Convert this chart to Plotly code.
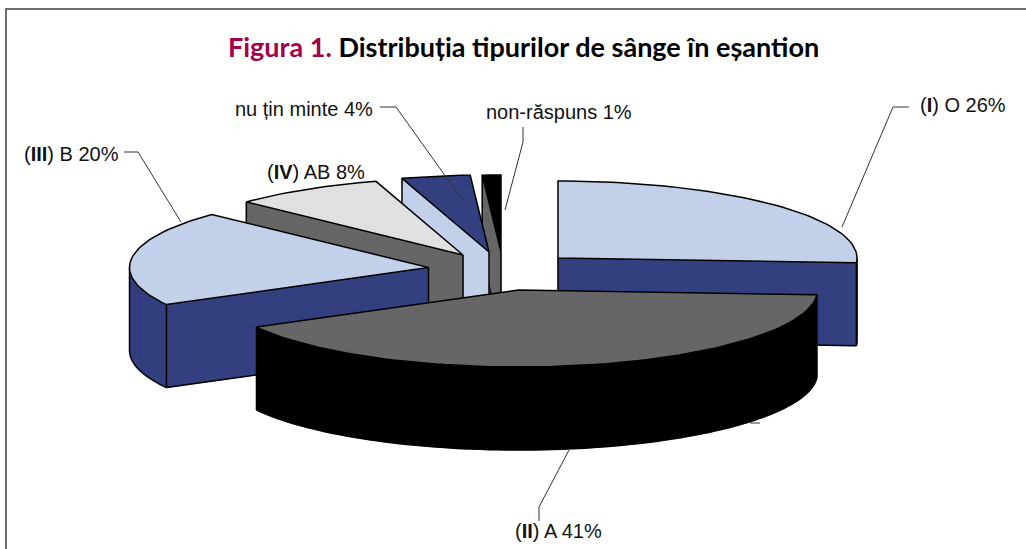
import math
import plotly.graph_objects as go

# ---- data ----
categories = ["(I) O", "(II) A", "(III) B", "(IV) AB", "nu țin minte", "non-răspuns"]
percent_labels = [26, 41, 20, 8, 4, 1]
slice_values = [26.0, 41.0, 20.1, 8.2, 3.7, 1.0]

# ---- style / layout ----
top_colors = ["#c3d0e9", "#666666", "#c3d0e9", "#e0e0e0", "#333f7f", "#000000"]
wall_colors = ["#333f7f", "#000000", "#333f7f", "#666666", "#c3d0e9", "#666666"]
centers = [(558, 258), (518.5, 290), (428.5, 267.5), (463, 255), (489, 252), (501, 252)]
draw_order = [5, 4, 3, 2, 0, 1]
RX, RY, DEPTH = 299, 77, 83
W, H = 1026, 549
LABEL_FONT = "Liberation Sans, Arial, sans-serif"

total = sum(slice_values)
starts = []
acc = 0.0
for v in slice_values:
    starts.append(acc)
    acc += v

fig = go.Figure()


def add_poly(xs, ys, fill=None, line=None, width=1.5):
    fig.add_trace(go.Scatter(
        x=xs, y=ys, mode="lines",
        fill="toself" if fill else "none",
        fillcolor=fill,
        line=dict(color=line or "rgba(0,0,0,0)", width=width if line else 0),
        hoverinfo="skip", showlegend=False))


for i in draw_order:
    cx, cy = centers[i]
    a0 = starts[i] / total * 2 * math.pi
    a1 = (starts[i] + slice_values[i]) / total * 2 * math.pi
    n = max(3, int((a1 - a0) / 0.03))
    arc = [(cx + RX * math.sin(a0 + (a1 - a0) * k / n),
            cy - RY * math.cos(a0 + (a1 - a0) * k / n)) for k in range(n + 1)]
    pts = [(cx, cy)] + arc + [(cx, cy)]
    corners = {0, 1, len(pts) - 2}
    vis = [pts[k + 1][0] - pts[k][0] < -1e-6 for k in range(len(pts) - 1)]

    # extruded wall, only the faces turned toward the viewer
    wx, wy, lx, ly = [], [], [], []
    for k, seen in enumerate(vis):
        if seen:
            (x0, y0), (x1, y1) = pts[k], pts[k + 1]
            wx += [x0, x1, x1, x0, x0, None]
            wy += [y0, y1, y1 + DEPTH, y0 + DEPTH, y0, None]
            lx += [x0, x1, None]
            ly += [y0 + DEPTH, y1 + DEPTH, None]
    for k in range(len(pts) - 1):
        before = vis[k - 1] if k > 0 else vis[-1]
        after = vis[k]
        if (before or after) and (before != after or k in corners):
            lx += [pts[k][0], pts[k][0], None]
            ly += [pts[k][1], pts[k][1] + DEPTH, None]
    if wx:
        add_poly(wx, wy, fill=wall_colors[i], line=wall_colors[i], width=0.5)
        add_poly(lx, ly, line="#000000")
    add_poly([p[0] for p in pts], [p[1] for p in pts],
             fill=top_colors[i], line="#000000")

# leader lines
leaders = [
    [(842, 227), (893, 107), (909, 107)],
    [(569, 450), (539, 507), (539, 521)],
    [(181, 222), (138, 152), (124, 152)],
    [(461, 198), (396, 107), (380, 107)],
    [(505, 210), (523, 142), (523, 127)],
    [(750, 423), (760, 423)],
]
shapes = [dict(type="rect", xref="x", yref="y", x0=6, y0=9, x1=1060, y1=600,
               line=dict(color="#6e6e6e", width=2), fillcolor="rgba(0,0,0,0)", layer="below")]
for pts in leaders:
    for (x0, y0), (x1, y1) in zip(pts, pts[1:]):
        shapes.append(dict(type="line", xref="x", yref="y", x0=x0, y0=y0, x1=x1, y1=y1,
                           line=dict(color="#333333", width=1)))


def label(i, x, y, anchor):
    name = categories[i].replace("(I)", "(<b>I</b>)").replace("(II)", "(<b>II</b>)") \
        .replace("(III)", "(<b>III</b>)").replace("(IV)", "(<b>IV</b>)")
    return dict(x=x, y=y, xref="x", yref="y", text=f"{name} {percent_labels[i]}%",
                showarrow=False, xanchor=anchor, yanchor="middle",
                font=dict(family=LABEL_FONT, size=20, color="#111111"))


annotations = [
    label(0, 1008, 105, "right"),
    label(1, 558, 531, "center"),
    label(2, 121, 154, "right"),
    label(3, 367, 172, "right"),
    label(4, 375, 109, "right"),
    label(5, 634, 112, "right"),
    dict(x=226, y=46, xref="x", yref="y", xanchor="left", yanchor="middle", showarrow=False,
         text="<b><span style='color:#a5004a'>Figura 1.</span> Distribuția tipurilor de sânge în eșantion</b>",
         font=dict(family="Lato, sans-serif", size=27, color="#000000")),
]

fig.update_layout(
    width=W, height=H, margin=dict(l=0, r=0, t=0, b=0),
    paper_bgcolor="#ffffff", plot_bgcolor="#ffffff",
    xaxis=dict(range=[0, W], visible=False, fixedrange=True),
    yaxis=dict(range=[H, 0], visible=False, fixedrange=True),
    shapes=shapes, annotations=annotations, showlegend=False,
)
fig.write_html("out.html", config={"displayModeBar": False},
               post_script="document.body.style.margin='0';document.documentElement.style.overflow='hidden';")
